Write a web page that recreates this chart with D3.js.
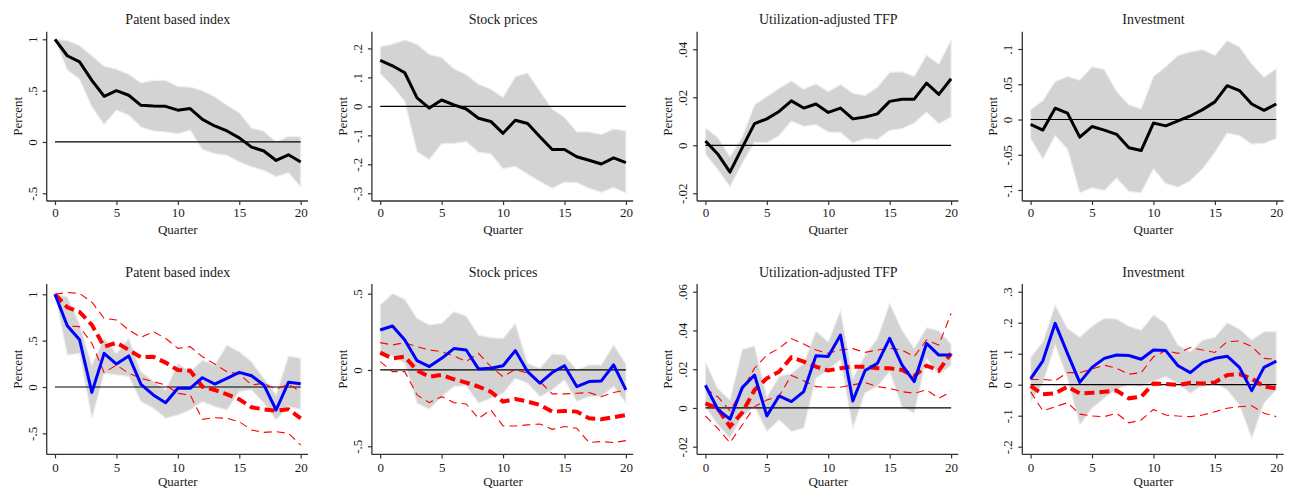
<!DOCTYPE html>
<html><head><meta charset="utf-8">
<script src="https://cdn.jsdelivr.net/npm/d3@7"></script>
<style>
html,body{margin:0;padding:0;background:#fff;}
svg{display:block;font-family:"Liberation Serif","Times New Roman",serif;}
</style></head>
<body><svg id="chart" width="1295" height="493"></svg>
<script>
const quarters = [0,1,2,3,4,5,6,7,8,9,10,11,12,13,14,15,16,17,18,19,20];
const xTicks = [0,5,10,15,20];
const titles = ["Patent based index","Stock prices","Utilization-adjusted TFP","Investment"];

// ---- Top row: point estimate and band ----
const patentMean = [1.0,.84,.78,.60,.445,.50,.455,.357,.35,.347,.31,.325,.22,.156,.107,.04,-.05,-.088,-.18,-.125,-.195];
const patentHi   = [1.0,.99,.94,.84,.737,.71,.66,.575,.60,.60,.54,.535,.50,.44,.357,.286,.136,.104,0,.055,.05];
const patentLo   = [1.0,.70,.61,.34,.17,.31,.26,.146,.107,.097,.08,.114,-.075,-.114,-.13,-.195,-.243,-.276,-.34,-.30,-.438];

const stockMean = [.159,.14,.116,.029,-.006,.022,.005,-.009,-.041,-.052,-.093,-.048,-.059,-.105,-.149,-.149,-.174,-.186,-.199,-.178,-.194];
const stockHi   = [.206,.215,.229,.214,.179,.169,.13,.11,.076,.06,.031,.103,.115,.052,-.009,-.038,-.088,-.088,-.097,-.078,-.085];
const stockLo   = [.113,.069,.017,-.157,-.184,-.129,-.128,-.122,-.158,-.164,-.215,-.207,-.234,-.259,-.283,-.262,-.263,-.283,-.297,-.28,-.30];

const tfpMean = [.0018,-.0036,-.0112,-.001,.009,.011,.0141,.0185,.0155,.0172,.0137,.0155,.011,.0118,.0131,.0183,.0192,.0192,.0259,.0212,.0277];
const tfpHi   = [.0072,.0033,-.0048,.0035,.0169,.0203,.0238,.0268,.0234,.0256,.0224,.0253,.0217,.0208,.0242,.0304,.0307,.0287,.0376,.0338,.0439];
const tfpLo   = [-.0036,-.0101,-.0173,-.0076,.0012,.001,.004,.01,.0079,.0086,.0055,.0054,.001,.0028,.0024,.0062,.0069,.0093,.0138,.009,.0118];

const invMean = [-.007,-.015,.016,.009,-.025,-.010,-.015,-.021,-.040,-.044,-.005,-.009,-.002,.005,.014,.025,.048,.041,.022,.013,.022];
const invHi   = [.014,.027,.054,.061,.056,.075,.071,.04,.021,.015,.061,.075,.091,.096,.099,.091,.112,.103,.079,.06,.072];
const invLo   = [-.027,-.056,-.023,-.042,-.104,-.097,-.101,-.083,-.102,-.104,-.07,-.091,-.096,-.087,-.07,-.047,-.0195,-.023,-.035,-.034,-.027];

// ---- Bottom row: blue estimate with band, red estimate with dashed bands ----
const patentBlue   = [1.0,.66,.51,-.058,.363,.248,.335,.029,-.086,-.169,-.014,-.014,.10,.032,.094,.158,.122,.022,-.248,.05,.036];
const patentBlueHi = [1.0,.975,.68,.237,.525,.363,.525,.165,.068,-.032,.255,.165,.29,.237,.453,.38,.273,.094,-.086,.335,.31];
const patentBlueLo = [1.0,.345,.363,-.338,.147,.13,.112,-.158,-.23,-.338,-.302,-.248,-.158,-.212,-.248,-.05,-.032,-.176,-.356,-.212,-.241];
const patentRed    = [1.0,.86,.81,.67,.435,.478,.40,.32,.327,.263,.183,.176,.004,-.032,-.079,-.133,-.219,-.241,-.255,-.241,-.338];
const patentRedHi  = [1.0,1.02,1.01,.914,.741,.723,.615,.536,.597,.525,.417,.435,.327,.248,.165,.14,.022,.04,-.025,.029,-.05];
const patentRedLo  = [1.0,.658,.651,.471,.155,.237,.147,.094,.058,.022,-.068,-.086,-.349,-.331,-.338,-.374,-.464,-.489,-.482,-.50,-.626];

const stockBlue   = [.262,.288,.197,.061,.022,.076,.14,.131,.007,.011,.028,.127,-.011,-.087,-.017,.028,-.109,-.076,-.072,.033,-.131];
const stockBlueHi = [.426,.502,.463,.338,.295,.306,.382,.354,.229,.212,.207,.306,.044,.011,.105,.098,0,.033,.033,.164,.039];
const stockBlueLo = [.12,.092,.044,-.218,-.258,-.175,-.109,-.105,-.218,-.186,-.153,-.055,-.087,-.175,-.131,-.066,-.207,-.175,-.175,-.109,-.218];
const stockRed    = [.114,.076,.087,-.004,-.044,-.033,-.061,-.083,-.109,-.142,-.207,-.19,-.207,-.229,-.273,-.269,-.273,-.317,-.323,-.31,-.295];
const stockRedHi  = [.179,.164,.179,.153,.131,.12,.092,.055,.109,.022,-.044,.004,-.022,-.076,-.157,-.157,-.153,-.148,-.175,-.148,-.131];
const stockRedLo  = [.055,-.011,-.011,-.164,-.214,-.175,-.214,-.223,-.317,-.262,-.367,-.367,-.36,-.354,-.389,-.371,-.382,-.476,-.469,-.476,-.463];

const tfpBlue   = [.0117,-.0007,-.0058,.0105,.017,-.0041,.0062,.0033,.0084,.027,.0265,.0376,.0036,.0193,.023,.0359,.0222,.0136,.0333,.0273,.0273];
const tfpBlueHi = [.0239,.0101,.0041,.0303,.032,.0058,.0162,.0179,.023,.0397,.0342,.0505,.0153,.0273,.0359,.054,.0402,.0308,.0414,.0399,.033];
const tfpBlueLo = [.0007,-.0088,-.0156,-.0045,.0007,-.0122,-.0062,-.0122,-.0105,.0153,.0196,.0248,-.0105,.0079,.011,.0187,.0007,-.0028,.0256,.017,.0222];
const tfpRed    = [.0024,-.0002,-.0096,-.0024,.0093,.0153,.0187,.0261,.0239,.0213,.0193,.0205,.0213,.0213,.0205,.0205,.0196,.0165,.0218,.0193,.0282];
const tfpRedHi  = [.0101,.0058,-.0015,.0093,.0205,.0273,.0308,.0358,.033,.0299,.0282,.0299,.0306,.0287,.0299,.0308,.0299,.0265,.0351,.0325,.0488];
const tfpRedLo  = [-.0041,-.0105,-.0179,-.0088,.0007,.0041,.0062,.0168,.0141,.011,.0107,.0107,.0119,.0131,.011,.0101,.0084,.0076,.0093,.005,.0084];

const invBlue   = [.019,.077,.198,.101,.0075,.056,.085,.096,.094,.082,.112,.11,.061,.039,.071,.085,.092,.056,-.019,.056,.076];
const invBlueHi = [.088,.139,.257,.182,.153,.189,.214,.212,.189,.176,.225,.198,.128,.106,.144,.153,.20,.18,.144,.171,.171];
const invBlueLo = [-.055,.004,.128,.02,-.13,-.076,-.044,-.015,-.001,-.006,.01,.026,.004,-.028,-.001,.006,-.017,-.066,-.173,-.06,-.017];
const invRed    = [-.004,-.031,-.028,-.006,-.028,-.026,-.023,-.019,-.044,-.039,.004,.002,-.001,.006,.004,.0075,.031,.034,.02,-.006,-.012];
const invRedHi  = [.017,.017,.013,.039,.039,.051,.063,.053,.034,.039,.09,.11,.101,.12,.112,.104,.139,.141,.123,.085,.082];
const invRedLo  = [-.023,-.084,-.071,-.058,-.095,-.101,-.103,-.092,-.123,-.114,-.08,-.098,-.101,-.103,-.098,-.087,-.076,-.071,-.068,-.092,-.103];

// tick values and labels
const patentTopTicks = [-.5,0,.5,1], patentTopLabels = ["-.5","0",".5","1"];
const stockTopTicks = [-.3,-.2,-.1,0,.1,.2], stockTopLabels = ["-.3","-.2","-.1","0",".1",".2"];
const tfpTopTicks = [-.02,0,.02,.04], tfpTopLabels = ["-.02","0",".02",".04"];
const invTopTicks = [-.1,-.05,0,.05,.1], invTopLabels = ["-.1","-.05","0",".05",".1"];
const patentBotTicks = [-.5,0,.5,1], patentBotLabels = ["-.5","0",".5","1"];
const stockBotTicks = [-.5,0,.5], stockBotLabels = ["-.5","0",".5"];
const tfpBotTicks = [-.02,0,.02,.04,.06], tfpBotLabels = ["-.02","0",".02",".04",".06"];
const invBotTicks = [-.2,-.1,0,.1,.2,.3], invBotLabels = ["-.2","-.1","0",".1",".2",".3"];

const svg = d3.select("#chart");
const FONT = 13, TXT = "#1a1a1a", AX = "#333";

const topPanels = [
  {mean:patentMean, hi:patentHi, lo:patentLo, dom:[-0.5,1.0], ticks:patentTopTicks, labels:patentTopLabels},
  {mean:stockMean, hi:stockHi, lo:stockLo, dom:[-0.3,0.2314], ticks:stockTopTicks, labels:stockTopLabels},
  {mean:tfpMean, hi:tfpHi, lo:tfpLo, dom:[-0.02,0.04415], ticks:tfpTopTicks, labels:tfpTopLabels},
  {mean:invMean, hi:invHi, lo:invLo, dom:[-0.1047,0.1138], ticks:invTopTicks, labels:invTopLabels}
];
const botPanels = [
  {blue:patentBlue, bhi:patentBlueHi, blo:patentBlueLo, red:patentRed, rhi:patentRedHi, rlo:patentRedLo, dom:[-0.644,1.028], ticks:patentBotTicks, labels:patentBotLabels},
  {blue:stockBlue, bhi:stockBlueHi, blo:stockBlueLo, red:stockRed, rhi:stockRedHi, rlo:stockRedLo, dom:[-0.503,0.513], ticks:stockBotTicks, labels:stockBotLabels},
  {blue:tfpBlue, bhi:tfpBlueHi, blo:tfpBlueLo, red:tfpRed, rhi:tfpRedHi, rlo:tfpRedLo, dom:[-0.02,0.06], ticks:tfpBotTicks, labels:tfpBotLabels},
  {blue:invBlue, bhi:invBlueHi, blo:invBlueLo, red:invRed, rhi:invRedHi, rlo:invRedLo, dom:[-0.2,0.3], ticks:invBotTicks, labels:invBotLabels}
];

function frame(i, row, p) {
  const ox = i * 325.2;
  const yr = row === 0 ? [193.3, 39.3] : [446.7, 291.7];
  const x = d3.scaleLinear().domain([0,20]).range([ox+55, ox+300.7]);
  const y = d3.scaleLinear().domain(p.dom).range(yr);
  const g = svg.append("g");
  const axX = ox + 46.7, axBottom = yr[0] + 7.7, axTop = yr[1] - 7.6;
  return {x, y, g, ox, axX, axBottom, axTop, yr};
}

function zeroLine(f) {
  const {x, y, g} = f;
  g.append("line").attr("x1", x(0)).attr("x2", x(20)).attr("y1", y(0)).attr("y2", y(0))
    .attr("stroke", "#000").attr("stroke-width", 1.2);
}

function axes(f, p, title, row) {
  const {x, y, g, axX, axBottom, axTop} = f;
  g.append("line").attr("x1", axX).attr("x2", axX).attr("y1", axTop).attr("y2", axBottom)
    .attr("stroke", AX).attr("stroke-width", 1.3);
  g.append("line").attr("x1", axX).attr("x2", f.ox + 308).attr("y1", axBottom).attr("y2", axBottom)
    .attr("stroke", AX).attr("stroke-width", 1.3);
  const xa = g.append("g").attr("transform", `translate(0,${axBottom})`)
    .call(d3.axisBottom(x).tickValues(xTicks).tickSize(4).tickPadding(row === 0 ? 3 : 4));
  xa.select(".domain").remove();
  xa.selectAll("line").attr("stroke", AX).attr("stroke-width", 1.2);
  xa.selectAll("text").attr("font-size", FONT).attr("fill", TXT).attr("font-family", "Liberation Serif");
  const ya = g.append("g").attr("transform", `translate(${axX},0)`)
    .call(d3.axisLeft(y).tickValues(p.ticks).tickSize(4).tickFormat((d,j) => p.labels[j]));
  ya.select(".domain").remove();
  ya.selectAll("line").attr("stroke", AX).attr("stroke-width", 1.2);
  ya.selectAll("text").attr("x", 0).attr("y", -14.5).attr("dy", null)
    .attr("transform", "rotate(-90)").attr("text-anchor", "middle")
    .attr("dominant-baseline", "central")
    .attr("font-size", FONT).attr("fill", TXT).attr("font-family", "Liberation Serif");
  const cx = (x(0) + x(20)) / 2;
  g.append("text").attr("x", cx).attr("y", axTop - 7.3).attr("text-anchor", "middle")
    .attr("font-size", 14).attr("fill", TXT).text(title);
  g.append("text").attr("x", cx).attr("y", axBottom + (row === 0 ? 32.5 : 31.5)).attr("text-anchor", "middle")
    .attr("font-size", FONT).attr("fill", TXT).text("Quarter");
  const cy = (axTop + axBottom) / 2;
  g.append("text").attr("transform", `translate(${axX - 29.4},${cy}) rotate(-90)`)
    .attr("text-anchor", "middle").attr("dominant-baseline", "central")
    .attr("font-size", FONT).attr("fill", TXT).text("Percent");
}

topPanels.forEach((p, i) => {
  const f = frame(i, 0, p);
  const {x, y, g} = f;
  const area = d3.area().x((d,k) => x(quarters[k])).y0((d,k) => y(p.lo[k])).y1((d,k) => y(p.hi[k]));
  g.append("path").datum(quarters).attr("d", area).attr("fill", "#d3d3d3")
    .attr("stroke", "#efefef").attr("stroke-width", 1.2);
  zeroLine(f);
  const line = d3.line().x((d,k) => x(quarters[k])).y(d => y(d));
  g.append("path").datum(p.mean).attr("d", line).attr("fill", "none")
    .attr("stroke", "#000").attr("stroke-width", 3).attr("stroke-linejoin", "round");
  axes(f, p, titles[i], 0);
});

botPanels.forEach((p, i) => {
  const f = frame(i, 1, p);
  const {x, y, g} = f;
  const area = d3.area().x((d,k) => x(quarters[k])).y0((d,k) => y(p.blo[k])).y1((d,k) => y(p.bhi[k]));
  g.append("path").datum(quarters).attr("d", area).attr("fill", "#d3d3d3")
    .attr("stroke", "#efefef").attr("stroke-width", 1.2);
  zeroLine(f);
  const line = d3.line().x((d,k) => x(quarters[k])).y(d => y(d));
  [p.rhi, p.rlo].forEach(s => {
    g.append("path").datum(s).attr("d", line).attr("fill", "none")
      .attr("stroke", "#ff0000").attr("stroke-width", 1.1).attr("stroke-dasharray", "8,5");
  });
  g.append("path").datum(p.red).attr("d", line).attr("fill", "none")
    .attr("stroke", "#ff0000").attr("stroke-width", 4).attr("stroke-dasharray", "10,5");
  g.append("path").datum(p.blue).attr("d", line).attr("fill", "none")
    .attr("stroke", "#0000ff").attr("stroke-width", 3).attr("stroke-linejoin", "round");
  axes(f, p, titles[i], 1);
});
</script></body></html>
